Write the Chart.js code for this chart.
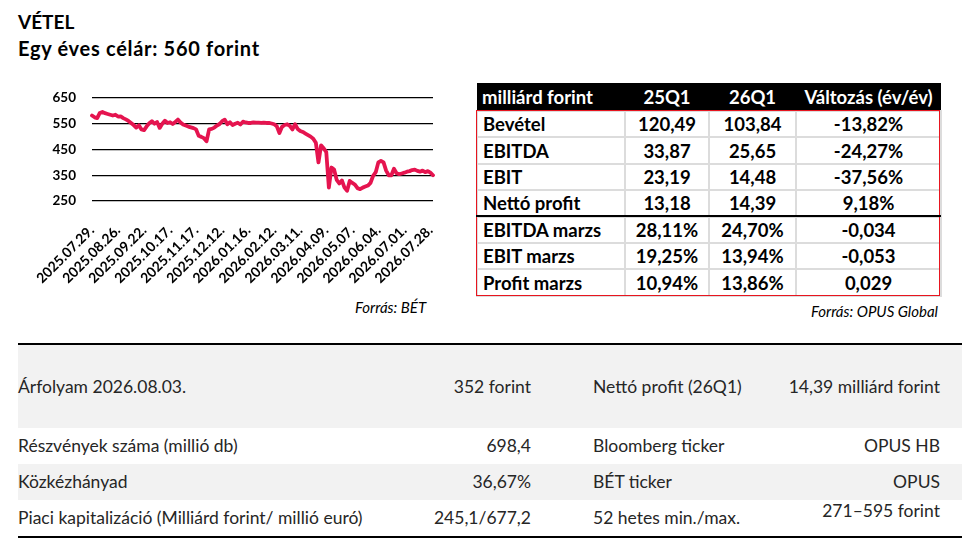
<!DOCTYPE html>
<html lang="hu">
<head>
<meta charset="utf-8">
<title>OPUS – VÉTEL</title>
<script src="https://cdn.jsdelivr.net/npm/chart.js@4.4.1/dist/chart.umd.min.js"></script>
<style>
    body {
        margin: 0;
        width: 978px;
        height: 544px;
        position: relative;
        overflow: hidden;
        background: #fff;
        font-family: Lato, "Noto Sans", sans-serif;
        color: #000;
    }
    .cim {
        position: absolute;
        left: 18px;
        font-weight: 700;
        line-height: 24px;
    }
    .forras {
        position: absolute;
        font-style: italic;
        font-size: 15px;
        line-height: 18px;
    }
    #chartBox {
        position: absolute;
        left: 20px;
        top: 85px;
        width: 420px;
        height: 200px;
    }
    #penzugy {
        position: absolute;
        left: 476px;
        top: 83px;
        width: 464px;
        border-collapse: collapse;
        table-layout: fixed;
        font-weight: 700;
        font-size: 18.5px;
    }
    #penzugy th {
        background: #000;
        color: #fff;
        height: 27px;
        padding: 0;
        text-align: center;
        font-weight: 700;
        white-space: nowrap;
    }
    #penzugy td {
        height: 24.4px;
        padding: 0;
        border: 2px solid #dcdcdc;
        text-align: center;
        line-height: 22px;
        white-space: nowrap;
    }
    #penzugy th:first-child,
    #penzugy td:first-child {
        text-align: left;
        padding-left: 5px;
    }
    #keret {
        position: absolute;
        left: 476px;
        top: 110px;
        width: 462px;
        height: 184px;
        border: 1.5px solid #e8151f;
        pointer-events: none;
    }
    #valaszto {
        position: absolute;
        left: 476px;
        top: 215px;
        width: 465px;
        height: 2px;
        background: #000;
    }
    .vonal {
        position: absolute;
        left: 18px;
        width: 944px;
        height: 1.5px;
        background: #000;
    }
    .sor {
        position: absolute;
        left: 18px;
        width: 944px;
        font-size: 17.5px;
        color: #262626;
    }
    .szurke { background: #f2f2f2; }
    .sor span { position: absolute; white-space: nowrap; }
    .c1 { left: 0; }
    .c2 { right: 431px; }
    .c3 { left: 575px; }
    .c4 { right: 22px; }
</style>
</head>
<body>

<div class="cim" style="top:10px; font-size:19px">VÉTEL</div>
<div class="cim" style="top:36px; font-size:20px; letter-spacing:0.7px">Egy éves célár: 560 forint</div>

<div id="chartBox"><canvas id="arfolyamChart"></canvas></div>
<div class="forras" style="left:355px; top:298px">Forrás: BÉT</div>

<table id="penzugy">
    <colgroup>
        <col style="width:148px"><col style="width:84px"><col style="width:87px"><col style="width:145px">
    </colgroup>
    <thead>
        <tr><th>milliárd forint</th><th>25Q1</th><th>26Q1</th><th>Változás (év/év)</th></tr>
    </thead>
    <tbody id="penzugyBody"></tbody>
</table>
<div id="keret"></div>
<div id="valaszto"></div>
<div class="forras" style="right:40px; top:302px">Forrás: OPUS Global</div>

<div class="vonal" style="top:343px"></div>
<div class="sor szurke" style="top:345px; height:83px; line-height:83px">
    <span class="c1">Árfolyam 2026.08.03.</span><span class="c2">352 forint</span>
    <span class="c3">Nettó profit (26Q1)</span><span class="c4">14,39 milliárd forint</span>
</div>
<div class="sor" style="top:428px; height:36px; line-height:36px">
    <span class="c1">Részvények száma (millió db)</span><span class="c2">698,4</span>
    <span class="c3">Bloomberg ticker</span><span class="c4">OPUS HB</span>
</div>
<div class="sor szurke" style="top:464px; height:36px; line-height:36px">
    <span class="c1">Közkézhányad</span><span class="c2">36,67%</span>
    <span class="c3">BÉT ticker</span><span class="c4">OPUS</span>
</div>
<div class="sor" style="top:500px; height:36px; line-height:36px">
    <span class="c1">Piaci kapitalizáció (Milliárd forint/ millió euró)</span><span class="c2">245,1/677,2</span>
    <span class="c3">52 hetes min./max.</span><span class="c4" style="top:-7px">271–595 forint</span>
</div>
<div class="vonal" style="top:536px"></div>

<script>
// Tengelyfeliratok (minden 10. kereskedési nap)
const tickLabels = [
    '2025.07.29.', '2025.08.26.', '2025.09.22.', '2025.10.17.', '2025.11.17.',
    '2025.12.12.', '2026.01.16.', '2026.02.12.', '2026.03.11.', '2026.04.09.',
    '2026.05.07.', '2026.06.04.', '2026.07.01.', '2026.07.28.'
];
const LABEL_STEP = 10;

// Záróárfolyam (forint)
const arfolyam = [
    582, 575, 572, 592, 596, 591, 588, 585, 582, 585,
    578, 579, 572, 567, 561, 553, 545, 535, 544, 528,
    525, 540, 552, 560, 550, 557, 534, 550, 562, 553,
    556, 549, 557, 566, 555, 547, 543, 539, 536, 533,
    528, 503, 499, 494, 482, 528, 530, 535, 543, 549,
    560, 566, 548, 556, 545, 550, 554, 547, 558, 555,
    553, 553, 555, 554, 554, 553, 554, 553, 553, 551,
    548, 540, 514, 538, 545, 548, 542, 528, 548, 530,
    522, 518, 512, 506, 500, 492, 476, 400, 466, 455,
    440, 302, 380, 372, 332, 318, 330, 302, 290, 328,
    320, 314, 300, 296, 302, 306, 310, 320, 348, 362,
    400, 406, 400, 368, 350, 350, 375, 358, 354, 357,
    360, 364, 366, 370, 372, 367, 364, 368, 362, 366,
    360, 350
];

// Y tengely
const yMin = 250;
const yMax = 650;
const yStep = 100;

// Táblázat adatai
const sorNevek = ['Bevétel', 'EBITDA', 'EBIT', 'Nettó profit', 'EBITDA marzs', 'EBIT marzs', 'Profit marzs'];
const ertek25Q1 = ['120,49', '33,87', '23,19', '13,18', '28,11%', '19,25%', '10,94%'];
const ertek26Q1 = ['103,84', '25,65', '14,48', '14,39', '24,70%', '13,94%', '13,86%'];
const valtozas = ['-13,82%', '-24,27%', '-37,56%', '9,18%', '-0,034', '-0,053', '0,029'];

document.addEventListener('DOMContentLoaded', function() {
    // Pénzügyi táblázat
    const tbody = document.getElementById('penzugyBody');
    sorNevek.forEach((nev, i) => {
        const tr = document.createElement('tr');
        [nev, ertek25Q1[i], ertek26Q1[i], valtozas[i]].forEach(szoveg => {
            const td = document.createElement('td');
            td.textContent = szoveg;
            tr.appendChild(td);
        });
        tbody.appendChild(tr);
    });

    // Kategóriák: csak minden LABEL_STEP-edik napnak van felirata
    const categories = arfolyam.map((v, i) => i % LABEL_STEP === 0 ? (tickLabels[i / LABEL_STEP] || '') : '');

    const ctx = document.getElementById('arfolyamChart').getContext('2d');
    const arfolyamChart = new Chart(ctx, {
        type: 'line',
        data: {
            labels: categories,
            datasets: [{
                label: 'OPUS',
                data: arfolyam,
                borderColor: '#e5144f',
                borderWidth: 3.8,
                borderJoinStyle: 'round',
                borderCapStyle: 'round',
                pointRadius: 0,
                tension: 0,
                fill: false
            }]
        },
        options: {
            responsive: true,
            maintainAspectRatio: false,
            animation: false,
            layout: {
                padding: { top: 13, right: 7, bottom: 0, left: 0 }
            },
            scales: {
                x: {
                    offset: false,
                    grid: { display: false },
                    border: { display: false },
                    ticks: {
                        autoSkip: false,
                        maxRotation: 45,
                        minRotation: 45,
                        padding: 13,
                        color: '#000',
                        font: { family: 'Lato', weight: 'bold', size: 14 }
                    },
                    afterFit: function(scale) {
                        // fix magasság, a ferde feliratok ne szűkítsék a rajzterületet
                        scale.height = 84;
                        scale.paddingLeft = 0;
                        scale.paddingRight = 0;
                    }
                },
                y: {
                    min: yMin,
                    max: yMax,
                    grid: {
                        color: '#000',
                        lineWidth: 1.2,
                        drawTicks: true,
                        tickLength: 16,
                        tickColor: 'rgba(0,0,0,0)'
                    },
                    border: { display: false },
                    ticks: {
                        stepSize: yStep,
                        padding: 0,
                        color: '#000',
                        font: { family: 'Lato', weight: 'bold', size: 13.5 }
                    },
                    afterFit: function(scale) {
                        scale.width = 72;
                    }
                }
            },
            plugins: {
                legend: { display: false },
                tooltip: { enabled: false }
            }
        }
    });
});
</script>
</body>
</html>
